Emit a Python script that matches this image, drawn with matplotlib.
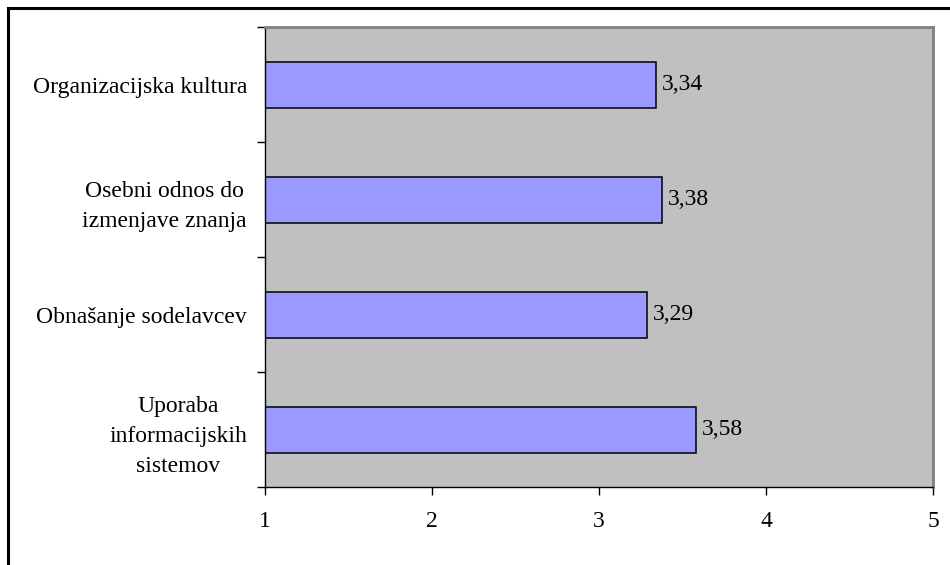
import matplotlib.pyplot as plt
from matplotlib.lines import Line2D

categories = ['Organizacijska kultura', 'Osebni odnos do\nizmenjave znanja',
              'Obnašanje sodelavcev', 'Uporaba\ninformacijskih\nsistemov']
values = [3.34, 3.38, 3.29, 3.58]
value_labels = ['3,34', '3,38', '3,29', '3,58']

plt.rcParams['font.family'] = ['Liberation Serif', 'DejaVu Serif']

fig = plt.figure(figsize=(9.5, 5.65), dpi=100)
ax = fig.add_axes([265 / 950, 1 - 487 / 565, (933 - 265) / 950, (487 - 27) / 565])
ax.set_facecolor('#C0C0C0')

fs = 17

pos = list(range(len(categories)))
widths = [v - 1 for v in values]
ax.barh(pos, widths, left=1, height=0.4, color='#9999FF', edgecolor='black', linewidth=1.1)
for p, v, lab in zip(pos, values, value_labels):
    ax.text(v + 0.035, p, lab, va='center', ha='left', fontsize=fs)

ax.set_xlim(1, 5)
ax.set_ylim(len(categories) - 0.5, -0.5)
ax.set_xticks([1, 2, 3, 4, 5])
ax.tick_params(axis='x', direction='out', length=6, width=1, pad=11, labelsize=fs)
ax.set_yticks(pos)
ax.set_yticklabels(categories, ha='right', multialignment='center', linespacing=1.55)
ax.tick_params(axis='y', which='major', length=0, pad=13, labelsize=fs)
ax.set_yticks([-0.5, 0.5, 1.5, 2.5, 3.5], minor=True)
ax.tick_params(axis='y', which='minor', direction='out', length=6, width=1)

for s in ['left', 'bottom']:
    ax.spines[s].set_color('black')
    ax.spines[s].set_linewidth(1)
for s in ['top', 'right']:
    ax.spines[s].set_color('#808080')
    ax.spines[s].set_linewidth(2)

# outer chart border (top and left only visible)
fig.add_artist(Line2D([8 / 950, 1], [1 - 8 / 565, 1 - 8 / 565], color='black', linewidth=2.2))
fig.add_artist(Line2D([8 / 950, 8 / 950], [0, 1 - 8 / 565], color='black', linewidth=2.2))

fig.savefig('out.png', dpi=100)
